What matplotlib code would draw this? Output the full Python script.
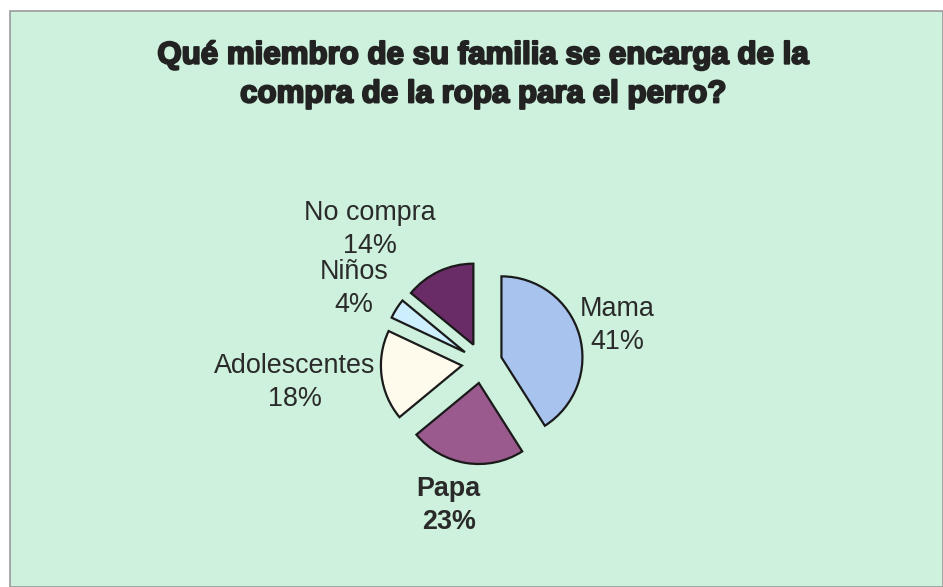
import matplotlib.pyplot as plt
import matplotlib.patheffects as pe
from matplotlib.patches import Rectangle

plt.rcParams['font.family'] = ['Liberation Sans', 'DejaVu Sans']

# Datos de la encuesta
categorias = ['Mama', 'Papa', 'Adolescentes', 'Niños', 'No compra']
porcentajes = [41, 23, 18, 4, 14]
colores = ['#a8c4ee', '#9a5a8e', '#fffbec', '#cdeefc', '#6a2c66']

W, H = 943, 587
fig = plt.figure(figsize=(W / 100, H / 100), dpi=100, facecolor='white')

# Fondo verde del área del gráfico
fig.patches.append(Rectangle((10 / W, 0), 1 - 10 / W, 1 - 11 / H,
                             transform=fig.transFigure, facecolor='#cdf1dc',
                             edgecolor='#9a9a9a', linewidth=1.2, zorder=-5))

# Ejes cuadrados alrededor del pastel (radio ~81 px)
r = 81
lim = 1.4
cx, cy = 482, H - 363
ax = fig.add_axes([(cx - lim * r) / W, (cy - lim * r) / H,
                   2 * lim * r / W, 2 * lim * r / H], zorder=2)

ax.pie(porcentajes, colors=colores, startangle=90, counterclock=False,
       explode=[0.25] * len(porcentajes),
       wedgeprops=dict(edgecolor='#1a1a1a', linewidth=1.6))
# pie() fija sus propios límites, así que se ajustan después
ax.set_xlim(-lim, lim)
ax.set_ylim(-lim, lim)
ax.set_aspect('equal')
ax.axis('off')

# Etiquetas de categoría y porcentaje
pos_etiquetas = [(1.67, 0.46), (-0.41, -1.76), (-2.31, -0.24),
                 (-1.58, 0.92), (-1.38, 1.645)]
for nombre, p, (x, y) in zip(categorias, porcentajes, pos_etiquetas):
    ax.text(x, y, f'{nombre}\n{p}%', ha='center', va='center', fontsize=19.4,
            color='#2a2a2a', linespacing=1.36,
            fontweight='bold' if nombre == 'Papa' else 'normal')

fig.text(483 / W, 1 - 75 / H,
         'Qué miembro de su familia se encarga de la\ncompra de la ropa para el perro?',
         ha='center', va='center', fontsize=22.5, fontweight='bold',
         color='#222222', linespacing=1.38,
         path_effects=[pe.withStroke(linewidth=1.5, foreground='#222222')])

fig.savefig('out.png', dpi=100)
